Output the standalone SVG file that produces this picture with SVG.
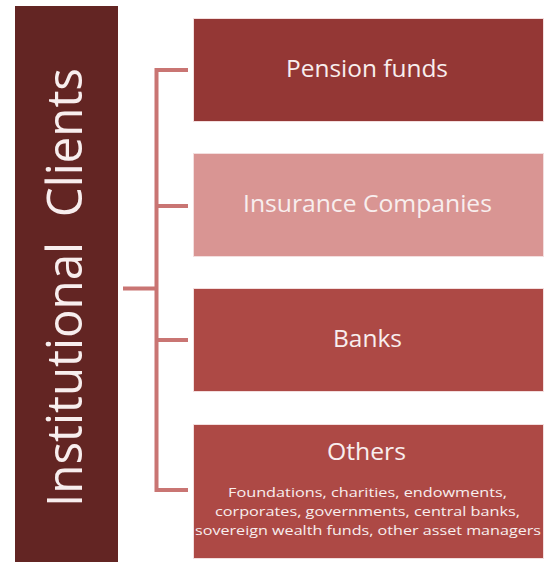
<svg xmlns="http://www.w3.org/2000/svg" width="547" height="564" viewBox="0 0 547 564">
<style>
.box{stroke:#f3dede;stroke-width:1}
.t{font-family:"Open Sans","Liberation Sans",sans-serif;fill:#f8eeee;text-anchor:middle}
.big{font-size:24px}
.small{font-size:13.5px}
.conn{stroke:#c97573;stroke-width:4;fill:none;stroke-linecap:butt}
</style>
<rect width="547" height="564" fill="#ffffff"/>
<g id="root">
<rect x="15" y="6" width="103" height="556" fill="#632523"/>
<text class="t" transform="translate(82,287.5) rotate(-90)" font-size="50" textLength="439" lengthAdjust="spacingAndGlyphs" style="white-space:pre">Institutional  Clients</text>
</g>
<g id="connectors">
<path class="conn" d="M188,70 H156.5 V490 H188"/>
<path class="conn" d="M156.5,206 H188"/>
<path class="conn" d="M156.5,340 H188"/>
<path class="conn" d="M123,288.5 H156.5"/>
</g>
<g id="pension">
<rect class="box" x="193.5" y="18.5" width="350" height="103" fill="#943735"/>
<text class="t big" x="367" y="77" textLength="162" lengthAdjust="spacingAndGlyphs">Pension funds</text>
</g>
<g id="insurance">
<rect class="box" x="193.5" y="153.5" width="350" height="103" fill="#d99593"/>
<text class="t big" x="367.5" y="212" textLength="249" lengthAdjust="spacingAndGlyphs">Insurance Companies</text>
</g>
<g id="banks">
<rect class="box" x="193.5" y="288.5" width="350" height="103" fill="#ad4945"/>
<text class="t big" x="367.5" y="346.5" textLength="69" lengthAdjust="spacingAndGlyphs">Banks</text>
</g>
<g id="others">
<rect class="box" x="193.5" y="424.5" width="350" height="134" fill="#ad4945"/>
<text class="t big" x="366.5" y="460" textLength="79" lengthAdjust="spacingAndGlyphs">Others</text>
<text class="t small" x="367.5" y="497" textLength="279" lengthAdjust="spacingAndGlyphs">Foundations, charities, endowments,</text>
<text class="t small" x="367.5" y="515.5" textLength="305" lengthAdjust="spacingAndGlyphs">corporates, governments, central banks,</text>
<text class="t small" x="368" y="535" textLength="346" lengthAdjust="spacingAndGlyphs">sovereign wealth funds, other asset managers</text>
</g>
</svg>
